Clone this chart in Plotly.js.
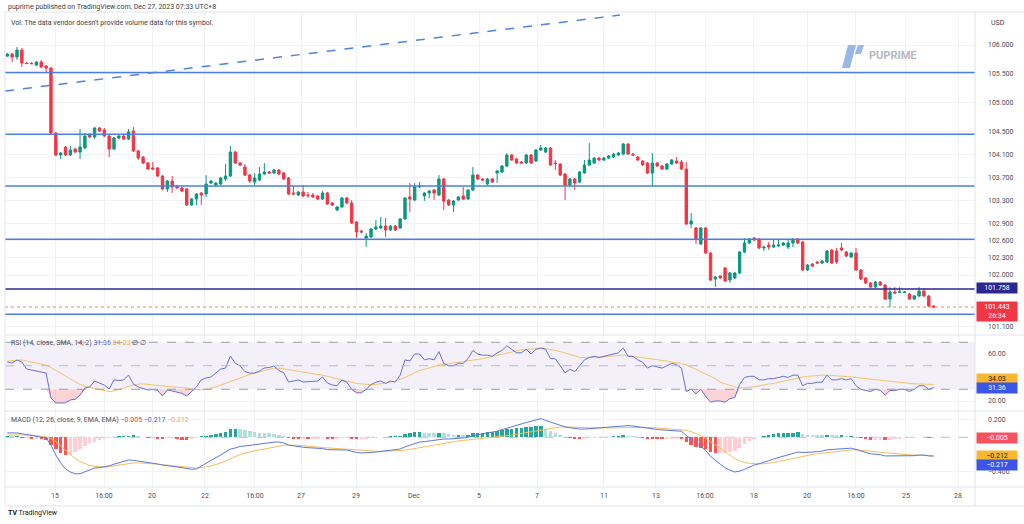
<!DOCTYPE html>
<html><head><meta charset="utf-8">
<script src="https://cdn.plot.ly/plotly-3.0.1.min.js"></script>
<style>html,body{margin:0;padding:0;background:#fff;}#chart{width:1024px;height:524px;}</style>
</head><body><div id="chart"></div>
<script>
// ---- price data (4h bars, 192 bars) ----
const openP = [105.809,105.843,105.791,105.913,105.687,105.680,105.652,105.704,105.635,105.600,
104.470,104.087,104.226,104.087,104.191,104.139,104.209,104.435,104.400,104.557,
104.522,104.417,104.191,104.383,104.417,104.365,104.504,104.157,104.052,103.948,
103.861,103.861,103.722,103.496,103.635,103.548,103.513,103.496,103.217,103.322,
103.426,103.409,103.600,103.565,103.583,103.670,103.722,104.139,103.948,103.878,
103.739,103.617,103.652,103.757,103.791,103.774,103.826,103.774,103.687,103.426,
103.391,103.443,103.391,103.391,103.374,103.322,103.426,103.252,103.130,103.183,
103.339,103.252,102.922,102.765,102.643,102.661,102.800,102.817,102.852,102.783,
102.852,102.817,102.974,103.357,103.304,103.530,103.374,103.426,103.478,103.391,
103.670,103.304,103.217,103.304,103.374,103.322,103.478,103.739,103.670,103.583,
103.670,103.774,103.791,103.896,104.087,104.017,103.965,103.948,104.087,103.983,
104.174,104.139,104.209,103.948,103.930,103.757,103.565,103.670,103.617,103.774,
103.913,103.948,104.035,104.000,104.035,104.052,104.087,104.104,104.278,104.104,
104.052,103.983,103.948,103.774,103.948,103.896,103.843,103.930,103.983,103.965,
103.843,102.887,102.817,102.539,102.817,102.383,101.930,101.983,102.122,101.913,
101.948,102.035,102.400,102.557,102.643,102.626,102.470,102.522,102.487,102.504,
102.522,102.487,102.557,102.626,102.574,102.087,102.191,102.226,102.209,102.226,
102.435,102.417,102.470,102.400,102.313,102.383,102.087,101.948,101.861,101.791,
101.878,101.826,101.583,101.704,101.696,101.696,101.670,101.583,101.635,101.722,
101.635,101.461];
const highP = [105.861,105.861,105.965,105.948,105.704,105.700,105.722,105.739,105.652,105.617,
104.487,104.139,104.243,104.243,104.209,104.539,104.470,104.470,104.574,104.574,
104.557,104.435,104.400,104.435,104.435,104.539,104.574,104.174,104.070,103.965,
103.965,103.878,103.739,103.652,103.722,103.565,103.530,103.513,103.339,103.426,
103.443,103.739,103.652,103.617,103.704,103.930,104.243,104.157,103.965,103.930,
103.757,103.774,103.878,103.948,103.809,103.843,103.843,103.791,103.704,103.548,
103.461,103.565,103.443,103.426,103.391,103.461,103.443,103.270,103.200,103.357,
103.357,103.304,102.939,102.783,102.730,102.817,102.957,103.009,102.991,102.870,
102.870,102.991,103.357,103.600,103.600,103.617,103.443,103.478,103.496,103.739,
103.687,103.322,103.304,103.374,103.530,103.496,103.878,103.757,103.687,103.687,
103.687,103.826,103.913,104.122,104.104,104.035,103.983,104.104,104.104,104.191,
104.261,104.226,104.226,104.000,103.948,103.774,103.687,103.687,103.809,104.000,
104.296,104.052,104.052,104.052,104.087,104.122,104.139,104.296,104.296,104.122,
104.070,104.000,103.965,104.122,103.965,103.913,103.948,104.017,104.052,104.000,
103.965,103.078,102.835,102.835,102.835,102.400,101.983,102.000,102.139,102.052,
102.052,102.417,102.643,102.643,102.661,102.643,102.504,102.574,102.626,102.626,
102.574,102.626,102.643,102.643,102.591,102.191,102.209,102.243,102.261,102.435,
102.452,102.470,102.557,102.417,102.400,102.470,102.104,101.965,101.878,101.896,
101.896,101.843,101.791,101.791,101.791,101.722,101.687,101.652,101.791,101.774,
101.652,101.478];
const lowP = [105.791,105.704,105.739,105.617,105.670,105.668,105.635,105.600,105.513,104.435,
104.070,104.017,104.070,104.070,104.122,104.017,104.191,104.383,104.365,104.487,
104.400,104.052,104.174,104.365,104.348,104.348,104.139,104.000,103.930,103.826,
103.826,103.704,103.478,103.443,103.426,103.496,103.443,103.200,103.200,103.217,
103.217,103.357,103.583,103.530,103.565,103.635,103.704,103.930,103.896,103.722,
103.600,103.565,103.635,103.739,103.757,103.757,103.739,103.652,103.391,103.391,
103.374,103.357,103.339,103.339,103.304,103.304,103.217,103.200,103.113,103.165,
103.235,102.887,102.643,102.730,102.487,102.643,102.783,102.800,102.661,102.765,
102.765,102.800,102.957,103.096,103.287,103.513,103.287,103.339,103.304,103.374,
103.130,103.200,103.096,103.287,103.304,103.304,103.461,103.652,103.635,103.565,
103.600,103.600,103.774,103.878,103.983,103.930,103.930,103.930,103.930,103.965,
104.157,104.122,103.896,103.826,103.722,103.304,103.548,103.478,103.600,103.757,
103.896,103.930,103.983,103.983,104.017,104.035,104.070,104.087,104.087,104.070,
103.983,103.896,103.757,103.530,103.878,103.826,103.826,103.913,103.930,103.826,
102.870,102.817,102.539,102.522,102.365,101.896,101.791,101.930,101.878,101.861,
101.930,102.017,102.383,102.539,102.591,102.452,102.417,102.435,102.470,102.487,
102.504,102.452,102.487,102.539,102.070,102.070,102.139,102.191,102.191,102.209,
102.191,102.191,102.417,102.313,102.296,102.070,101.913,101.843,101.774,101.774,
101.809,101.565,101.443,101.670,101.687,101.687,101.565,101.565,101.617,101.617,
101.443,101.426];
const closeP = [105.843,105.791,105.913,105.687,105.678,105.675,105.704,105.617,105.600,104.470,
104.087,104.122,104.087,104.174,104.139,104.226,104.417,104.400,104.557,104.504,
104.417,104.191,104.383,104.417,104.365,104.487,104.157,104.035,103.948,103.843,
103.843,103.722,103.496,103.635,103.530,103.513,103.461,103.217,103.322,103.409,
103.391,103.583,103.635,103.600,103.687,103.722,104.139,103.948,103.913,103.739,
103.635,103.687,103.757,103.791,103.774,103.826,103.757,103.670,103.409,103.409,
103.443,103.374,103.383,103.357,103.322,103.426,103.235,103.217,103.183,103.339,
103.252,102.904,102.748,102.748,102.678,102.800,102.835,102.852,102.783,102.852,
102.783,102.974,103.339,103.322,103.530,103.548,103.426,103.461,103.426,103.670,
103.287,103.217,103.287,103.357,103.322,103.478,103.739,103.670,103.652,103.670,
103.617,103.809,103.896,104.087,104.000,103.948,103.948,104.087,103.948,104.174,
104.209,104.209,103.913,103.939,103.739,103.565,103.670,103.600,103.791,103.913,
104.000,104.035,104.000,104.035,104.070,104.104,104.122,104.278,104.104,104.087,
104.000,103.913,103.774,103.948,103.896,103.843,103.930,104.000,103.948,103.843,
102.887,102.939,102.626,102.817,102.383,101.913,101.965,101.948,101.896,102.035,
102.035,102.400,102.557,102.626,102.609,102.470,102.487,102.487,102.522,102.522,
102.557,102.557,102.626,102.557,102.087,102.174,102.157,102.209,102.243,102.417,
102.209,102.226,102.435,102.330,102.383,102.087,101.930,101.861,101.791,101.878,
101.826,101.583,101.704,101.687,101.704,101.704,101.583,101.635,101.722,101.635,
101.461,101.443];

// ---- RSI(14) and its SMA(14) ----
const rsi = [53.2,52.3,54.9,53.2,47.2,46.4,45.5,44.7,43.8,22.6,
18.3,18.3,18.5,20.9,21.5,25.1,31.1,31.9,37.0,35.3,
33.5,30.2,37.9,37.5,37.9,42.1,34.5,31.9,30.5,29.4,
29.8,29.0,24.3,29.4,28.5,27.7,26.5,24.3,27.7,31.9,
38.0,39.6,40.4,43.8,47.2,48.0,58.3,52.3,49.8,45.0,
43.8,43.8,45.5,48.1,48.5,49.8,46.0,44.0,36.2,37.0,
37.9,36.2,36.5,36.2,37.0,40.4,35.3,33.6,33.0,37.9,
36,30,27,27,30,34,36,37,35,37,
36,42,55,54,60,60,55,56,55,62,
52,50,50,52,52,56,63,60,59,59,
58,61,63,67,64,61,61,64,60,64,
65,64,56,56,50,44,47,45,50,55,
57,58,57,58,59,60,61,65,58,58,
55,53,48,50,49,48,50,52,51,48,
28,30,26,30,24,19,20,20,19,22,
23,34,40,41,41,38,38,39,39,40,
41,40,42,42,33,35,35,36,36,42,
38,38,39,38,39,33,30,29,28,30,
29,25,29,29,30,30,28,30,33,33,
30,31.36];
const rsiSma = [54,54.5,55,55,54,53,52.5,51.5,50.6,48.5,
46,43.8,41,38.5,36,34,32.5,31.5,30.5,29.4,
28.5,28,28.5,29.5,31,32.5,33.5,34.5,34.5,34.2,
33.8,33.5,33,32.5,32,31.8,31.5,31,30,29.5,
29.6,30,30.8,32,33.5,35,37,38.5,39.6,41,
42.5,43.5,44.7,46,47,48,48,47.5,46.7,46,
45.3,44.5,43.8,43.2,42.5,42,41,39.5,38.5,37.9,
37,36,35,34.5,34,34,34.2,34.5,35.2,36,
37,38.5,40,42,44,46,47,48.3,49.5,50.6,
51.2,51.8,52.4,53,53.5,54,54.5,55,56,57,
58,59,60,61,62,63,63.5,64,64.5,65,
65,64.5,64,63,62,61,60,58.5,57,57,
57,57,57,57.5,58,58.5,59,59,58.5,58,
57.5,57,56.5,56,55.5,55,54,53,52.5,52,
50.5,49,47,45,43,41,39,36,34.5,33,
32,31,31,31.5,32,33,34,34.5,35,36,
37,38,39,40,40.5,41,41.5,42,42,42,
41.8,41.5,41.2,41,40.5,40,39.5,39,38.5,38,
37.5,37,36.5,36,35.7,35.3,35,34.7,34.5,34.3,
34.1,34.03];

// ---- MACD(12,26,9) ----
const macdLine = [0.05,0.05,0.05,0.04,0.03,0.015,0.01,0.0,-0.008,-0.09,
-0.204,-0.296,-0.365,-0.40,-0.42,-0.42,-0.40,-0.38,-0.354,-0.35,
-0.342,-0.33,-0.31,-0.296,-0.275,-0.262,-0.265,-0.273,-0.28,-0.285,
-0.295,-0.308,-0.32,-0.331,-0.335,-0.342,-0.35,-0.365,-0.368,-0.365,
-0.33,-0.30,-0.262,-0.235,-0.204,-0.17,-0.135,-0.123,-0.105,-0.10,
-0.092,-0.089,-0.08,-0.07,-0.062,-0.056,-0.054,-0.065,-0.09,-0.10,
-0.11,-0.115,-0.12,-0.122,-0.125,-0.13,-0.142,-0.146,-0.146,-0.146,
-0.146,-0.16,-0.175,-0.18,-0.18,-0.175,-0.17,-0.16,-0.155,-0.15,
-0.145,-0.135,-0.11,-0.09,-0.07,-0.055,-0.05,-0.042,-0.035,-0.02,
-0.02,-0.02,-0.018,-0.012,-0.008,0.0,0.02,0.03,0.04,0.05,
0.057,0.07,0.088,0.106,0.125,0.14,0.155,0.17,0.185,0.2,
0.215,0.195,0.175,0.157,0.14,0.12,0.11,0.10,0.095,0.095,
0.10,0.105,0.107,0.11,0.115,0.12,0.125,0.135,0.135,0.13,
0.122,0.112,0.10,0.095,0.09,0.085,0.082,0.08,0.077,0.07,
0.02,-0.02,-0.07,-0.10,-0.15,-0.22,-0.27,-0.31,-0.35,-0.38,
-0.40,-0.39,-0.37,-0.345,-0.32,-0.305,-0.29,-0.27,-0.25,-0.235,
-0.22,-0.205,-0.185,-0.17,-0.175,-0.175,-0.17,-0.165,-0.16,-0.145,
-0.14,-0.14,-0.13,-0.13,-0.125,-0.14,-0.16,-0.175,-0.19,-0.195,
-0.2,-0.215,-0.215,-0.215,-0.212,-0.21,-0.212,-0.212,-0.205,-0.205,
-0.215,-0.217];
const signalLine = [0.025,0.027,0.03,0.03,0.028,0.025,0.02,0.012,0.003,-0.015,
-0.05,-0.10,-0.15,-0.20,-0.245,-0.28,-0.305,-0.325,-0.335,-0.34,
-0.342,-0.338,-0.33,-0.32,-0.31,-0.30,-0.296,-0.294,-0.296,-0.30,
-0.305,-0.31,-0.316,-0.322,-0.328,-0.333,-0.34,-0.347,-0.352,-0.354,
-0.35,-0.342,-0.33,-0.315,-0.296,-0.275,-0.245,-0.22,-0.20,-0.181,
-0.165,-0.155,-0.146,-0.135,-0.124,-0.112,-0.10,-0.092,-0.089,-0.089,
-0.092,-0.097,-0.103,-0.11,-0.114,-0.118,-0.122,-0.126,-0.131,-0.135,
-0.139,-0.143,-0.15,-0.155,-0.16,-0.163,-0.164,-0.164,-0.162,-0.16,
-0.158,-0.155,-0.148,-0.14,-0.13,-0.12,-0.105,-0.095,-0.085,-0.075,
-0.065,-0.055,-0.048,-0.042,-0.036,-0.03,-0.025,-0.02,-0.015,-0.01,
-0.005,0.0,0.008,0.016,0.025,0.035,0.045,0.055,0.065,0.075,
0.085,0.095,0.105,0.112,0.118,0.12,0.12,0.118,0.115,0.112,
0.11,0.108,0.107,0.107,0.108,0.108,0.11,0.112,0.115,0.117,
0.118,0.117,0.115,0.112,0.108,0.104,0.10,0.097,0.094,0.09,
0.08,0.066,0.045,0.02,-0.01,-0.05,-0.09,-0.13,-0.17,-0.21,
-0.245,-0.27,-0.29,-0.30,-0.305,-0.307,-0.305,-0.30,-0.29,-0.28,
-0.268,-0.255,-0.24,-0.227,-0.215,-0.205,-0.197,-0.19,-0.183,-0.175,
-0.168,-0.162,-0.155,-0.15,-0.145,-0.145,-0.148,-0.153,-0.16,-0.167,
-0.173,-0.18,-0.187,-0.193,-0.197,-0.2,-0.203,-0.205,-0.206,-0.207,
-0.209,-0.212];
const macdHist = [0.015,0.01,0.01,-0.01,-0.01,-0.015,-0.015,-0.02,-0.03,-0.09,
-0.14,-0.18,-0.2,-0.2,-0.17,-0.14,-0.1,-0.07,-0.05,-0.03,
-0.015,-0.005,0.005,0.01,0.015,0.02,0.03,0.015,0.005,-0.01,
-0.01,-0.015,-0.02,-0.01,-0.01,-0.02,-0.03,-0.035,-0.02,-0.005,
0.01,0.02,0.03,0.04,0.05,0.065,0.09,0.1,0.09,0.08,
0.07,0.06,0.055,0.05,0.045,0.04,0.03,0.01,-0.01,-0.015,
-0.02,-0.02,-0.025,-0.02,-0.015,-0.01,-0.015,-0.02,-0.015,-0.01,
-0.007,-0.017,-0.025,-0.025,-0.02,-0.012,-0.006,0.004,0.007,0.01,
0.013,0.02,0.038,0.05,0.06,0.065,0.055,0.053,0.05,0.055,
0.045,0.035,0.03,0.03,0.028,0.03,0.045,0.05,0.055,0.06,
0.062,0.07,0.08,0.09,0.1,0.105,0.11,0.115,0.12,0.125,
0.13,0.1,0.07,0.045,0.022,0.0,-0.01,-0.018,-0.02,-0.017,
-0.01,-0.003,0.0,0.003,0.007,0.012,0.015,0.023,0.02,0.013,
0.004,-0.005,-0.015,-0.017,-0.018,-0.019,-0.018,-0.017,-0.017,-0.02,
-0.06,-0.086,-0.115,-0.12,-0.14,-0.17,-0.18,-0.18,-0.18,-0.17,
-0.155,-0.12,-0.08,-0.045,-0.015,0.002,0.015,0.03,0.04,0.045,
0.048,0.05,0.055,0.057,0.04,0.03,0.027,0.025,0.023,0.03,
0.028,0.022,0.025,0.02,0.02,0.005,-0.012,-0.022,-0.03,-0.028,
-0.027,-0.035,-0.028,-0.022,-0.015,-0.01,-0.009,-0.007,0.001,0.002,
-0.006,-0.005];

// ---- axis labels ----
const tickPos  = [9.84,19.94,29.84,40.76,51.07,60.56,71.9,83.86,97.26,109.22,123.03,133.75,143.86,153.96,164.89,174.99,185.3,196.03];
const tickText = ['15','16:00','20','22','16:00','27','29','Dec','5','7','11','13','16:00','18','20','16:00','25','28'];
const priceTicks = [106.0,105.5,105.0,104.5,104.1,103.7,103.3,102.9,102.6,102.3,102.0,101.1];
// ---- drawn levels ----
const blueLevels = [105.52,104.45,103.55,102.62,101.32];
const navyLevel = 101.758;
const lastPrice = 101.443;
const trendX = [-0.47,126.3];
const trendY = [105.20,106.52];

const idx = openP.map((_, i) => i);
const FONT = 'Roboto, "Open Sans", sans-serif';
const GRID = '#f0f2f7';

const histColors = macdHist.map((h, i) => {
  const p = i > 0 ? macdHist[i-1] : h;
  if (h >= 0) return h >= p ? '#26a69a' : '#b2dfdb';
  return h < p ? '#ff5252' : '#ffcdd2';
});

const traces = [
  {type:'candlestick', x:idx, open:openP, high:highP, low:lowP, close:closeP, xaxis:'x', yaxis:'y',
   increasing:{line:{color:'#089981',width:1}, fillcolor:'#089981'},
   decreasing:{line:{color:'#f23645',width:1}, fillcolor:'#f23645'},
   whiskerwidth:0, hoverinfo:'skip', showlegend:false},
  {type:'scatter', mode:'lines', x:idx, y:idx.map(() => 30), yaxis:'y2', line:{width:0}, hoverinfo:'skip', showlegend:false},
  {type:'scatter', mode:'lines', x:idx, y:rsi.map(v => Math.min(v, 30)), yaxis:'y2', line:{width:0}, fill:'tonexty', fillcolor:'rgba(242,54,69,0.22)', hoverinfo:'skip', showlegend:false},
  {type:'scatter', mode:'lines', x:idx, y:rsiSma, yaxis:'y2', line:{color:'#f5c46a', width:1}, hoverinfo:'skip', showlegend:false},
  {type:'scatter', mode:'lines', x:idx, y:rsi, yaxis:'y2', line:{color:'#6670d8', width:1}, hoverinfo:'skip', showlegend:false},
  {type:'bar', x:idx, y:macdHist, yaxis:'y3', marker:{color:histColors, line:{width:0}}, width:0.72, hoverinfo:'skip', showlegend:false},
  {type:'scatter', mode:'lines', x:idx, y:signalLine, yaxis:'y3', line:{color:'#f5bd5c', width:1}, hoverinfo:'skip', showlegend:false},
  {type:'scatter', mode:'lines', x:idx, y:macdLine, yaxis:'y3', line:{color:'#5b77e0', width:1}, hoverinfo:'skip', showlegend:false}
];

// pixel helpers for paper coordinates (plot area: x 5..975, y 12..487)
const PX = px => (px - 5) / 970;
const PY = py => (487 - py) / 475;

const shapes = [];
shapes.push({type:'rect', xref:'paper', yref:'y2', x0:0, x1:1, y0:30, y1:70, fillcolor:'rgba(126,87,194,0.09)', line:{width:0}, layer:'below'});
[70,50,30].forEach(v => shapes.push({type:'line', xref:'paper', yref:'y2', x0:0, x1:1, y0:v, y1:v, line:{color: v===50 ? '#b8bac2' : '#9a9ca6', width:1, dash:'dash'}}));
shapes.push({type:'line', xref:'paper', yref:'y3', x0:0, x1:1, y0:0, y1:0, line:{color:'#b8bac2', width:1, dash:'dash'}, layer:'below'});
blueLevels.forEach(v => shapes.push({type:'line', xref:'paper', yref:'y', x0:0, x1:1, y0:v, y1:v, line:{color:'#4a7fe0', width:1.5}}));
shapes.push({type:'line', xref:'paper', yref:'y', x0:0, x1:1, y0:navyLevel, y1:navyLevel, line:{color:'#2b2790', width:1.5}});
shapes.push({type:'line', xref:'paper', yref:'y', x0:0, x1:1, y0:lastPrice, y1:lastPrice, line:{color:'#f27c86', width:1, dash:'dot'}});
shapes.push({type:'line', xref:'x', yref:'y', x0:trendX[0], x1:trendX[1], y0:trendY[0], y1:trendY[1], line:{color:'#4f83e0', width:1.5, dash:'dash'}});
const FR = '#e0e3eb';
shapes.push({type:'line', xref:'paper', yref:'paper', x0:0, x1:PX(1024), y0:PY(335), y1:PY(335), line:{color:FR, width:1}});
shapes.push({type:'line', xref:'paper', yref:'paper', x0:0, x1:PX(1024), y0:PY(411), y1:PY(411), line:{color:FR, width:1}});
shapes.push({type:'line', xref:'paper', yref:'paper', x0:0, x1:PX(1024), y0:PY(12), y1:PY(12), line:{color:FR, width:1}});
shapes.push({type:'line', xref:'paper', yref:'paper', x0:0, x1:PX(1024), y0:PY(487), y1:PY(487), line:{color:FR, width:1}});
shapes.push({type:'line', xref:'paper', yref:'paper', x0:0, x1:PX(1024), y0:PY(506), y1:PY(506), line:{color:FR, width:1}});
shapes.push({type:'line', xref:'paper', yref:'paper', x0:1, x1:1, y0:PY(506), y1:PY(12), line:{color:FR, width:1}});
shapes.push({type:'line', xref:'paper', yref:'paper', x0:0, x1:0, y0:PY(506), y1:PY(12), line:{color:FR, width:1}});
shapes.push({type:'path', xref:'paper', yref:'paper', path:`M${PX(848)},${PY(45)} L${PX(856)},${PY(45)} L${PX(850)},${PY(68)} L${PX(842)},${PY(68)} Z`, fillcolor:'#9ab8e6', line:{width:0}});
shapes.push({type:'path', xref:'paper', yref:'paper', path:`M${PX(858)},${PY(45)} L${PX(864)},${PY(45)} L${PX(861)},${PY(54)} L${PX(855)},${PY(54)} Z`, fillcolor:'#9ab8e6', line:{width:0}});

const ann = [];
const txt = (x, y, text, size, color) => ann.push({xref:'paper', yref:'paper', x:PX(x), y:PY(y), text, showarrow:false, xanchor:'left', yanchor:'middle', font:{family:FONT, size, color}});
txt(6, 7, 'puprime published on TradingView.com, Dec 27, 2023 07:33 UTC+8', 7, '#3a3d47');
txt(9, 23, "Vol: The data vendor doesn't provide volume data for this symbol.", 7, '#3a3d47');
txt(989, 23, 'USD', 7, '#3a3d47');
txt(867, 56, '<b>PUPRIME</b>', 11, '#b4b7bf');
txt(9, 343, 'RSI (14, close, SMA, 14, 2) <span style="color:#5f6bd6">31.36</span> <span style="color:#f0a93b">34.03</span> ∅ ∅', 7, '#4a4d57');
txt(9, 420, 'MACD (12, 26, close, 9, EMA, EMA) <span style="color:#f23645">−0.005</span> <span style="color:#3d63e0">−0.217</span> <span style="color:#f0a93b">−0.212</span>', 7, '#4a4d57');
txt(6, 513, '<b>TV</b> TradingView', 7, '#131722');
const box = (py, text, bg, fg) => ann.push({xref:'paper', yref:'paper', x:PX(976), y:PY(py), text, showarrow:false, xanchor:'left', yanchor:'middle', width:38, align:'center', bgcolor:bg, borderpad:1, font:{family:FONT, size:7, color:fg}});
box(288, '101.758', '#2b2790', '#ffffff');
box(311, '101.443<br>26:34', '#f23645', '#ffffff');
box(379, '34.03', '#f7b731', '#131722');
box(388, '31.36', '#3b55e6', '#ffffff');
box(438, '−0.005', '#f5525f', '#ffffff');
box(456, '−0.212', '#f7b731', '#131722');
box(465, '−0.217', '#3b55e6', '#ffffff');

const layout = {
  width:1024, height:524, margin:{l:5, r:49, t:12, b:37},
  paper_bgcolor:'#ffffff', plot_bgcolor:'#ffffff', showlegend:false, bargap:0,
  font:{family:FONT, size:7, color:'#4a4d57'},
  xaxis:{range:[-0.474,199.53], tickvals:tickPos, ticktext:tickText, showgrid:true, gridcolor:GRID, zeroline:false,
         showline:false, ticks:'', tickfont:{size:7, color:'#4a4d57'}, anchor:'y3', rangeslider:{visible:false}, fixedrange:true, ticklabelstandoff:3},
  yaxis:{domain:[PY(335),1], range:[100.957,106.574], side:'right', tickvals:priceTicks, ticktext:priceTicks.map(v => v.toFixed(3)),
         showgrid:true, gridcolor:GRID, zeroline:false, ticks:'', tickfont:{size:7, color:'#4a4d57'}, anchor:'x', ticklabelstandoff:12, fixedrange:true},
  yaxis2:{domain:[PY(411),PY(335)], range:[11.49,76.17], side:'right', tickvals:[60,20], ticktext:['60.00','20.00'],
         showgrid:true, gridcolor:GRID, zeroline:false, ticks:'', tickfont:{size:7, color:'#4a4d57'}, anchor:'x', ticklabelstandoff:12, fixedrange:true},
  yaxis3:{domain:[0,PY(411)], range:[-0.573,0.303], side:'right', tickvals:[0.2,-0.4], ticktext:['0.200','−0.400'],
         showgrid:true, gridcolor:GRID, zeroline:false, ticks:'', tickfont:{size:7, color:'#4a4d57'}, anchor:'x', ticklabelstandoff:12, fixedrange:true},
  shapes, annotations:ann
};
Plotly.newPlot('chart', traces, layout, {displayModeBar:false, staticPlot:true});
</script></body></html>
